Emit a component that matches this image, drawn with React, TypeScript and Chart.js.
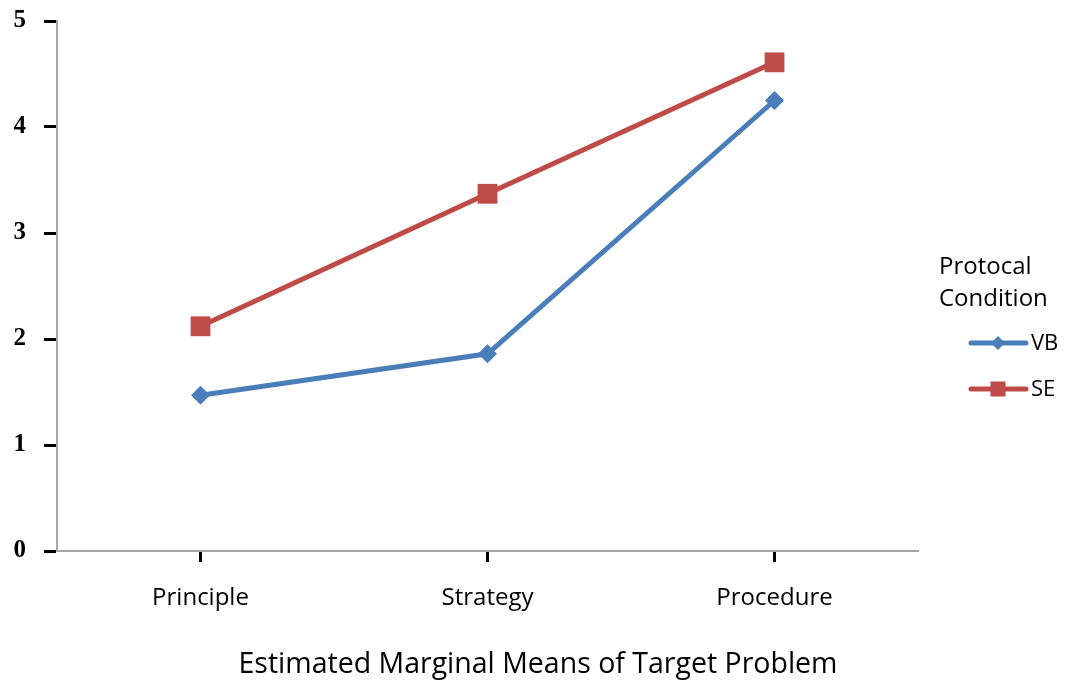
import React, { useEffect, useRef } from 'react';
import { Chart, registerables } from 'chart.js';

Chart.register(...registerables);

const categories = ['Principle', 'Strategy', 'Procedure'];
const vbValues = [1.47, 1.86, 4.25];
const seValues = [2.12, 3.37, 4.61];
const seriesNames = ['VB', 'SE'];
const seriesColors = ['#4A7EBB', '#BE4B48'];
const yMin = 0;
const yMax = 5;
const legendTitle = ['Protocal', 'Condition'];
const chartTitle = 'Estimated Marginal Means of Target Problem';

const SANS = '"Open Sans", "Noto Sans", sans-serif';

const overlayPlugin = {
  id: 'overlay',
  afterDraw(chart: any) {
    const ctx = chart.ctx;
    ctx.save();
    // bottom title
    ctx.fillStyle = '#000';
    ctx.font = `28.5px ${SANS}`;
    ctx.textAlign = 'center';
    ctx.textBaseline = 'middle';
    ctx.fillText(chartTitle, 538, 665);

    // legend
    ctx.textAlign = 'left';
    ctx.font = `24px ${SANS}`;
    ctx.fillText(legendTitle[0], 939, 267);
    ctx.fillText(legendTitle[1], 939, 299);
    const rows = [343, 389];
    chart.data.datasets.forEach((ds: any, i: number) => {
      const y = rows[i];
      ctx.strokeStyle = ds.borderColor;
      ctx.lineWidth = 5;
      ctx.lineCap = 'round';
      ctx.beginPath();
      ctx.moveTo(971, y);
      ctx.lineTo(1026, y);
      ctx.stroke();
      ctx.fillStyle = ds.borderColor;
      const cx = 998;
      if (ds.pointStyle === 'rect') {
        ctx.fillRect(cx - 7.5, y - 7.5, 15, 15);
      } else {
        ctx.beginPath();
        ctx.moveTo(cx, y - 7);
        ctx.lineTo(cx + 7, y);
        ctx.lineTo(cx, y + 7);
        ctx.lineTo(cx - 7, y);
        ctx.closePath();
        ctx.fill();
      }
      ctx.fillStyle = '#000';
      ctx.font = `22px ${SANS}`;
      ctx.fillText(ds.label, 1031, y + 1);
    });
    ctx.restore();
  },
};

export default function App() {
  const ref = useRef<HTMLCanvasElement | null>(null);
  useEffect(() => {
    document.body.style.margin = '0';
    const canvas = ref.current!;
    const chart = new Chart(canvas, {
      type: 'line',
      data: {
        labels: categories,
        datasets: [
          {
            label: seriesNames[0],
            data: vbValues,
            borderColor: seriesColors[0],
            backgroundColor: seriesColors[0],
            pointBackgroundColor: seriesColors[0],
            pointBorderWidth: 0,
            pointStyle: 'rectRot',
            pointRadius: 9.5,
            borderWidth: 5,
            tension: 0,
          },
          {
            label: seriesNames[1],
            data: seValues,
            borderColor: seriesColors[1],
            backgroundColor: seriesColors[1],
            pointBackgroundColor: seriesColors[1],
            pointBorderWidth: 0,
            pointStyle: 'rect',
            pointRadius: 14,
            borderWidth: 5,
            tension: 0,
          },
        ],
      },
      options: {
        responsive: false,
        animation: false,
        layout: { padding: { top: 21, right: 148, left: 0, bottom: 0 } },
        plugins: {
          legend: { display: false },
          title: { display: false },
          tooltip: { enabled: false },
        },
        scales: {
          x: {
            type: 'category',
            offset: true,
            afterFit: (s: any) => {
              s.height = 131;
              s.paddingLeft = 0;
              s.paddingRight = 0;
            },
            border: { color: '#A6A6A6', width: 2 },
            grid: {
              drawOnChartArea: false,
              drawTicks: true,
              tickLength: 11,
              tickWidth: 3,
              tickColor: '#000',
            },
            ticks: {
              color: '#000',
              padding: 22,
              font: { family: SANS, size: 24 },
              maxRotation: 0,
            },
          },
          y: {
            min: yMin,
            max: yMax,
            afterFit: (s: any) => {
              s.width = 57;
              s.paddingTop = 0;
              s.paddingBottom = 0;
            },
            border: { color: '#A6A6A6', width: 2 },
            grid: {
              drawOnChartArea: false,
              drawTicks: true,
              tickLength: 13,
              tickWidth: 3,
              tickColor: '#000',
            },
            ticks: {
              stepSize: 1,
              color: '#000',
              padding: 18,
              font: { family: '"Liberation Serif", "Times New Roman", serif', size: 25, weight: 'bold' },
            },
          },
        },
      },
      plugins: [overlayPlugin],
    });
    return () => chart.destroy();
  }, []);
  return <canvas ref={ref} width={1066} height={682} style={{ display: 'block' }} />;
}
